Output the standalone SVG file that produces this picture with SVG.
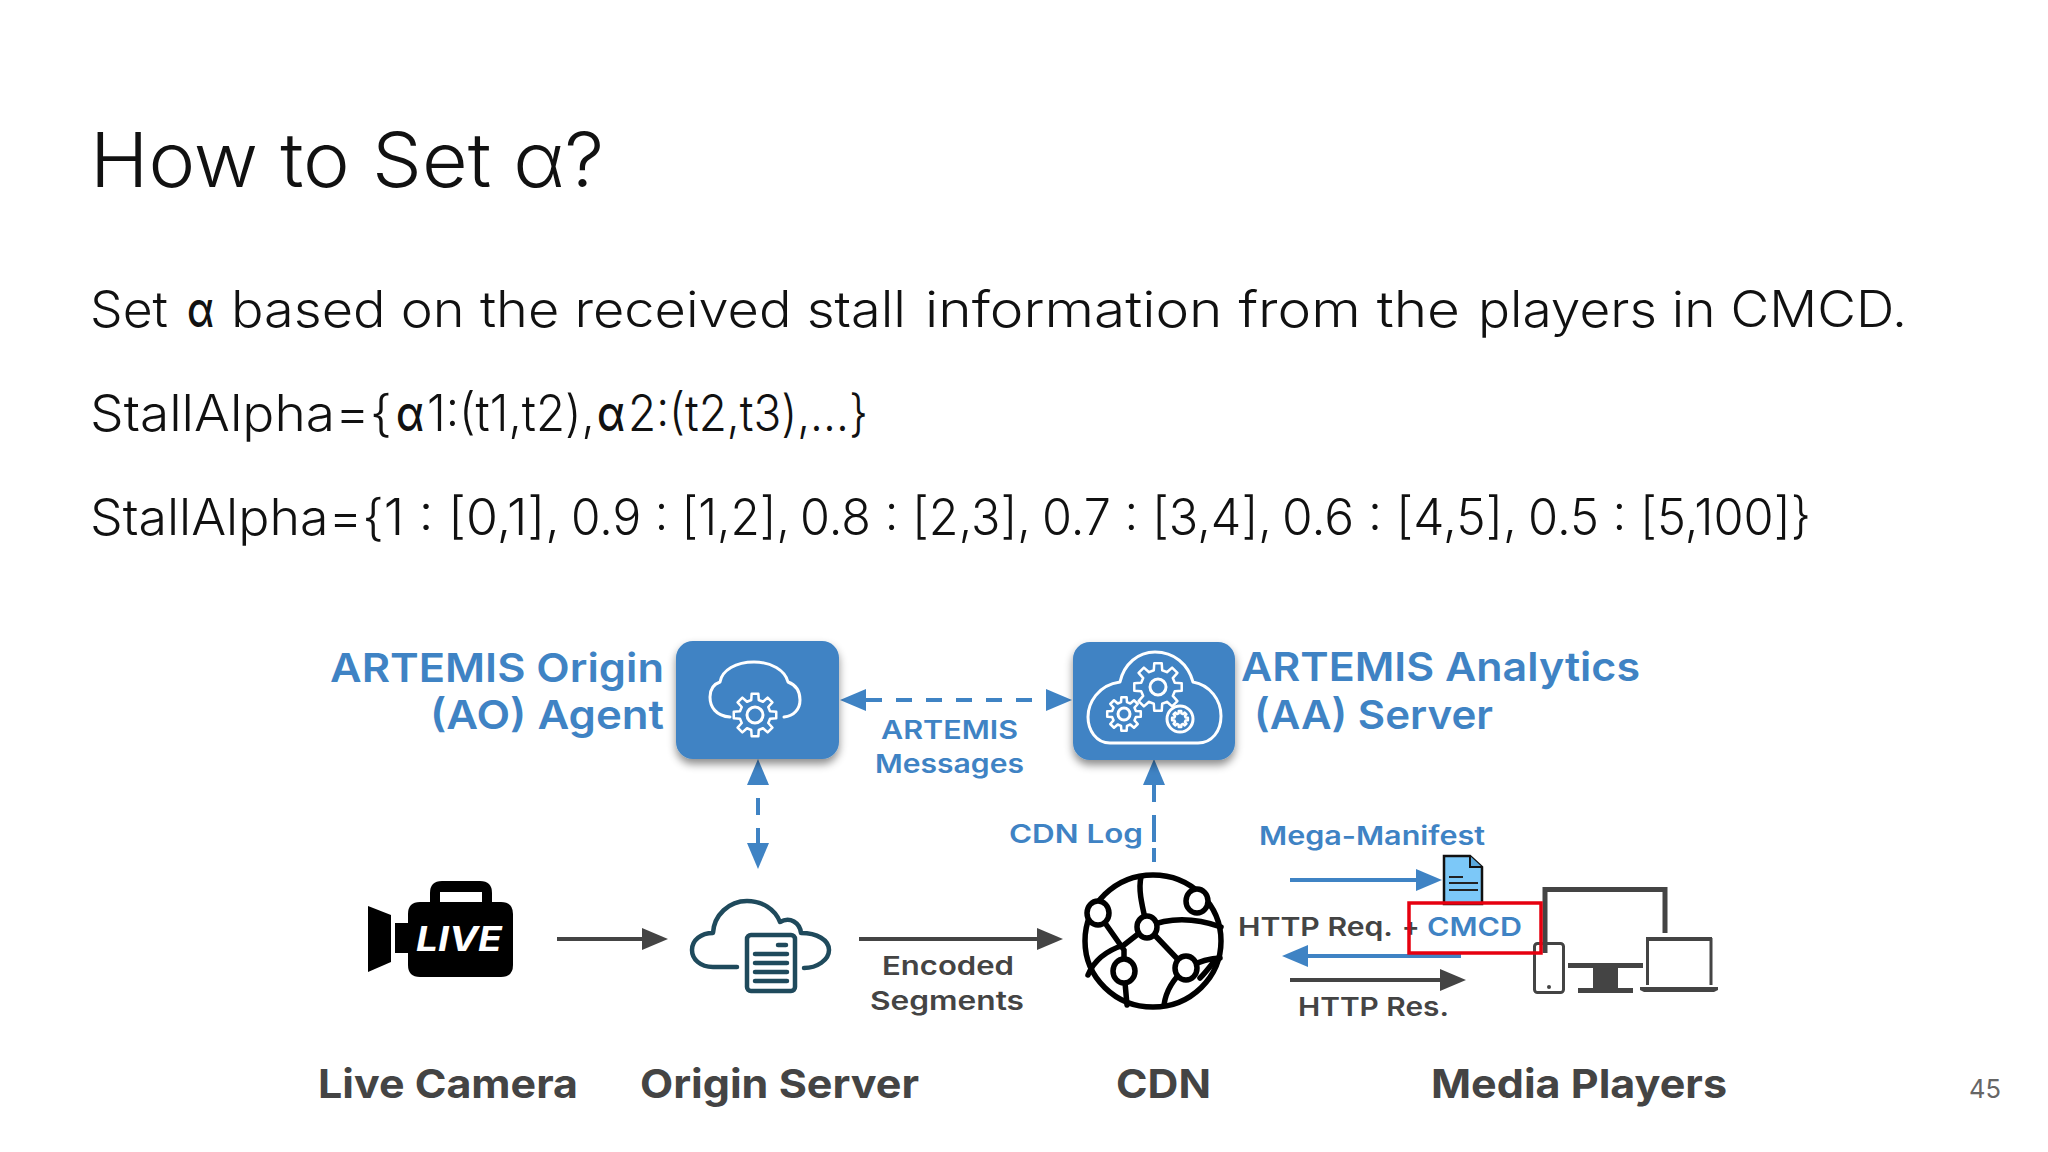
<svg xmlns="http://www.w3.org/2000/svg" width="2048" height="1152" viewBox="0 0 2048 1152">
<style>
text{font-family:"Inter","Open Sans","Liberation Sans",sans-serif}
.body{font-size:50px;font-weight:300;fill:#111}
.a{font-weight:500}
.blue{fill:#3f83c4;font-weight:600}
.big{font-size:40px}
.mid{font-size:26px}
.dark{fill:#444;font-weight:600}
.name{font-size:40px;font-weight:700}
.wl{fill:none;stroke:#fff;stroke-width:3;stroke-linecap:round;stroke-linejoin:round}
.gear{fill:none;stroke:#fff;stroke-width:2.5;stroke-linejoin:round;vector-effect:non-scaling-stroke}
.ds{stroke:#444;stroke-width:4;fill:none}
.bs{stroke:#3f83c4;stroke-width:4;fill:none}
.box{fill:#3f83c4;filter:url(#sh)}
.tl{fill:none;stroke:#1f4a5c;stroke-width:4.5;stroke-linecap:round;stroke-linejoin:round}
.gl{fill:none;stroke:#000;stroke-width:5.5;stroke-linecap:round}
.nd{fill:#fff;stroke:#000;stroke-width:5.5}
.pl{fill:none;stroke:#444;stroke-width:5}
.thin{fill:none;stroke:#444;stroke-width:3}
.plf{fill:#444}
</style>
<defs>
<filter id="sh" x="-15%" y="-15%" width="130%" height="130%"><feDropShadow dx="0" dy="5" stdDeviation="4" flood-color="#000" flood-opacity=".45"/></filter>
<marker id="hb" markerUnits="userSpaceOnUse" markerWidth="28" markerHeight="24" refX="0" refY="11" orient="auto-start-reverse"><path d="M0 0L26 11L0 22Z" fill="#3f83c4"/></marker>
<marker id="hd" markerUnits="userSpaceOnUse" markerWidth="28" markerHeight="24" refX="0" refY="11" orient="auto-start-reverse"><path d="M0 0L26 11L0 22Z" fill="#444"/></marker>
<path id="g" class="gear" d="M69.9-17.4L98.8-15.6L98.8 15.6L69.9 17.4L61.7 37.1L80.9 58.8L58.8 80.9L37.1 61.7L17.4 69.9L15.6 98.8L-15.6 98.8L-17.4 69.9L-37.1 61.7L-58.8 80.9L-80.9 58.8L-61.7 37.1L-69.9 17.4L-98.8 15.6L-98.8-15.6L-69.9-17.4L-61.7-37.1L-80.9-58.8L-58.8-80.9L-37.1-61.7L-17.4-69.9L-15.6-98.8L15.6-98.8L17.4-69.9L37.1-61.7L58.8-80.9L80.9-58.8L61.7-37.1Z"/>
</defs>
<rect width="2048" height="1152" fill="#fff"/>
<g id="slide-text">
<text x="90" y="187" font-size="76" font-weight="300" fill="#111" textLength="514" lengthAdjust="spacingAndGlyphs">How to Set α?</text>
<text class="body" y="327"><tspan x="90" textLength="78" lengthAdjust="spacingAndGlyphs">Set</tspan> <tspan class="a" x="187" textLength="27" lengthAdjust="spacingAndGlyphs">α</tspan> <tspan x="231" textLength="675" lengthAdjust="spacingAndGlyphs">based on the received stall</tspan> <tspan x="925" textLength="535" lengthAdjust="spacingAndGlyphs">information from the</tspan> <tspan x="1478" textLength="429" lengthAdjust="spacingAndGlyphs">players in CMCD.</tspan></text>
<text class="body" y="431"><tspan x="90" textLength="302" lengthAdjust="spacingAndGlyphs">StallAlpha={</tspan><tspan class="a" x="396" textLength="28" lengthAdjust="spacingAndGlyphs">α</tspan><tspan x="427" textLength="168" lengthAdjust="spacingAndGlyphs">1:(t1,t2),</tspan><tspan class="a" x="597" textLength="28" lengthAdjust="spacingAndGlyphs">α</tspan><tspan x="628" textLength="240" lengthAdjust="spacingAndGlyphs">2:(t2,t3),...}</tspan></text>
<text class="body" y="535"><tspan x="90" textLength="470" lengthAdjust="spacingAndGlyphs">StallAlpha={1 : [0,1],</tspan> <tspan x="571" textLength="219" lengthAdjust="spacingAndGlyphs">0.9 : [1,2],</tspan> <tspan x="800" textLength="231" lengthAdjust="spacingAndGlyphs">0.8 : [2,3],</tspan> <tspan x="1042" textLength="230" lengthAdjust="spacingAndGlyphs">0.7 : [3,4],</tspan> <tspan x="1282" textLength="235" lengthAdjust="spacingAndGlyphs">0.6 : [4,5],</tspan> <tspan x="1528" textLength="283" lengthAdjust="spacingAndGlyphs">0.5 : [5,100]}</tspan></text>
<text x="1969" y="1098" font-size="26" fill="#666" textLength="32" lengthAdjust="spacingAndGlyphs">45</text>
</g>
<g id="connectors">
<line class="bs" x1="866" y1="700" x2="1046" y2="700" stroke-dasharray="16 14" marker-start="url(#hb)" marker-end="url(#hb)"/>
<line class="bs" x1="758" y1="785" x2="758" y2="843" stroke-dasharray="0 13 17 13 15" marker-start="url(#hb)" marker-end="url(#hb)"/>
<path class="bs" d="M1154 862V848M1154 842V815M1154 802V785" marker-end="url(#hb)"/>
<line class="ds" x1="557" y1="939" x2="642" y2="939" marker-end="url(#hd)"/>
<line class="ds" x1="859" y1="939" x2="1037" y2="939" marker-end="url(#hd)"/>
<line class="bs" x1="1290" y1="880" x2="1416" y2="880" marker-end="url(#hb)"/>
<line class="bs" x1="1461" y1="956" x2="1308" y2="956" marker-end="url(#hb)"/>
<line class="ds" x1="1290" y1="980" x2="1440" y2="980" marker-end="url(#hd)"/>
</g>
<g id="ao-agent">
<rect class="box" x="676" y="641" width="163" height="118" rx="17"/>
<path class="wl" d="M730 717C716 716 710 707 710 697C710 689 714 684 720 682C722 670 736 662 754 662C771 662 785 670 788 682C796 685 800 691 800 700C800 709 794 716 784 717"/>
<use href="#g" transform="translate(755 715) scale(.215)"/>
<circle class="wl" cx="755" cy="715" r="8"/>
<text class="blue big" x="664" y="682" text-anchor="end" textLength="334" lengthAdjust="spacingAndGlyphs">ARTEMIS Origin</text>
<text class="blue big" x="664" y="729" text-anchor="end" textLength="234" lengthAdjust="spacingAndGlyphs">(AO) Agent</text>
</g>
<g id="aa-server">
<rect class="box" x="1073" y="642" width="162" height="118" rx="17"/>
<path class="wl" d="M1110 743C1096 743 1088 730 1088 717C1088 703 1098 685 1120 682C1124 664 1138 652 1155 652C1174 652 1188 664 1193 682C1210 685 1221 700 1221 716C1221 731 1212 743 1198 743Z"/>
<use href="#g" transform="translate(1158 687) scale(.24)"/>
<circle class="wl" cx="1158" cy="687" r="8"/>
<use href="#g" transform="translate(1124 714) scale(.17)"/>
<circle class="wl" cx="1124" cy="714" r="6"/>
<circle class="wl" cx="1180" cy="719" r="13"/>
<use href="#g" transform="translate(1180 719) scale(.08)"/>
<text class="blue big" x="1241" y="681" textLength="399" lengthAdjust="spacingAndGlyphs">ARTEMIS Analytics</text>
<text class="blue big" x="1254" y="729" textLength="239" lengthAdjust="spacingAndGlyphs">(AA) Server</text>
</g>
<g id="labels">
<text class="blue mid" x="881" y="739" textLength="137" lengthAdjust="spacingAndGlyphs">ARTEMIS</text>
<text class="blue mid" x="875" y="773" textLength="149" lengthAdjust="spacingAndGlyphs">Messages</text>
<text class="blue mid" x="1009" y="843" textLength="134" lengthAdjust="spacingAndGlyphs">CDN Log</text>
<text class="blue mid" x="1259" y="845" textLength="226" lengthAdjust="spacingAndGlyphs">Mega-Manifest</text>
<text class="dark mid" x="882" y="975" textLength="132" lengthAdjust="spacingAndGlyphs">Encoded</text>
<text class="dark mid" x="870" y="1010" textLength="154" lengthAdjust="spacingAndGlyphs">Segments</text>
<text class="dark mid" x="1238" y="936" textLength="155" lengthAdjust="spacingAndGlyphs">HTTP Req.</text>
<text class="dark mid" x="1402" y="936">+</text>
<text class="blue mid" x="1427" y="936" textLength="95" lengthAdjust="spacingAndGlyphs">CMCD</text>
<text class="dark mid" x="1298" y="1016" textLength="151" lengthAdjust="spacingAndGlyphs">HTTP Res.</text>
</g>
<g id="live-camera">
<path d="M368 906L391 915V962L368 972Z" fill="#000"/>
<rect x="395" y="923" width="16" height="30" fill="#000"/>
<path fill-rule="evenodd" d="M442 881H480Q492 881 492 893V902H501Q513 902 513 914V965Q513 977 501 977H420Q408 977 408 965V914Q408 902 420 902H430V893Q430 881 442 881ZM440 892V902H482V892Z" fill="#000"/>
<text x="416" y="951" font-size="34" font-weight="700" font-style="italic" fill="#fff" textLength="86" lengthAdjust="spacingAndGlyphs">LIVE</text>
<text class="dark name" x="318" y="1098" textLength="260" lengthAdjust="spacingAndGlyphs">Live Camera</text>
</g>
<g id="origin-server">
<path class="tl" d="M737 967H713C700 967 692 959 692 950C692 940 701 933 713 933C714 915 729 901 747 901C762 901 775 909 780 922C790 916 800 923 801 933C817 933 829 940 829 950C829 960 817 968 804 968"/>
<rect class="tl" x="747" y="935" width="48" height="56" rx="4"/>
<path class="tl" d="M778 945H786M755 954H787M755 963H787M755 972H787M755 981H787"/>
<text class="dark name" x="640" y="1098" textLength="279" lengthAdjust="spacingAndGlyphs">Origin Server</text>
</g>
<g id="cdn">
<ellipse class="gl" cx="1153" cy="941" rx="68" ry="66"/>
<path class="gl" d="M1141 877C1138 890 1142 905 1147 927M1147 927C1170 917 1195 918 1221 927M1098 913L1124 950L1124 971M1147 927L1186 968M1147 927L1124 945C1108 950 1095 958 1088 975M1124 971L1127 1005M1186 968C1174 978 1166 990 1164 1005M1186 968C1198 962 1208 958 1220 958M1200 978C1206 972 1210 966 1214 962"/>
<ellipse class="nd" cx="1098" cy="913" rx="11" ry="12"/>
<ellipse class="nd" cx="1197" cy="901" rx="11" ry="12"/>
<ellipse class="nd" cx="1147" cy="927" rx="10" ry="11"/>
<ellipse class="nd" cx="1124" cy="971" rx="11" ry="12"/>
<ellipse class="nd" cx="1186" cy="968" rx="11" ry="12"/>
<text class="dark name" x="1116" y="1098" textLength="95" lengthAdjust="spacingAndGlyphs">CDN</text>
</g>
<g id="manifest">
<path d="M1444 856H1470L1482 867V904H1444Z" fill="#7cc8f8" stroke="#111" stroke-width="2.5"/>
<path d="M1470 856V867H1482" fill="#5aa8dc" stroke="#111" stroke-width="2"/>
<path d="M1449 877H1463M1449 883H1478M1449 890H1478" stroke="#222" stroke-width="2" fill="none"/>
</g>
<g id="media-players">
<path class="pl" d="M1545 953V889.500H1665V933"/>
<rect class="plf" x="1568" y="963" width="75" height="5"/>
<rect class="plf" x="1593" y="968" width="25" height="20"/>
<rect class="plf" x="1578" y="988" width="55" height="5"/>
<rect class="thin" x="1534.500" y="943.500" width="29" height="49" rx="3"/>
<circle class="plf" cx="1549" cy="987" r="2"/>
<path class="thin" d="M1647.500 985V939.500H1711V985"/>
<rect class="plf" x="1646" y="937" width="66" height="4"/>
<path class="plf" d="M1640 987H1718V990L1714 992H1644L1640 990Z"/>
<text class="dark name" x="1431" y="1098" textLength="296" lengthAdjust="spacingAndGlyphs">Media Players</text>
</g>
<rect id="highlight" x="1409" y="903" width="132" height="50" fill="none" stroke="#e6000f" stroke-width="3.500"/>
</svg>
